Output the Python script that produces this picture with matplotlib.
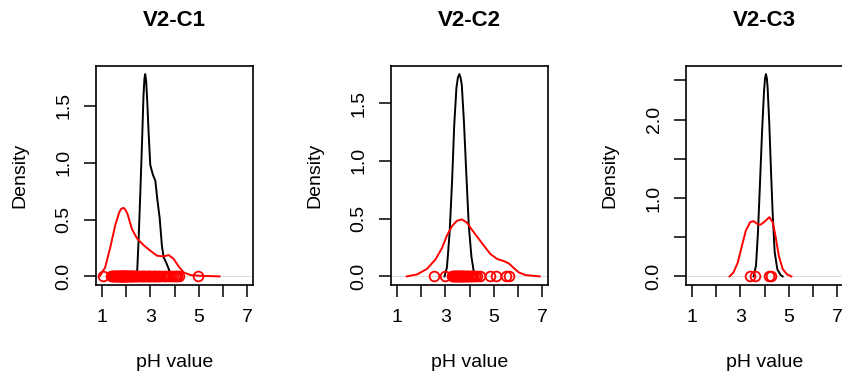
import matplotlib
matplotlib.use("Agg")
import matplotlib.pyplot as plt
import numpy as np

plt.rcParams["font.family"] = ["Liberation Sans", "DejaVu Sans"]

#%%data
titles = ["V2-C1", "V2-C2", "V2-C3"]

# black density curves
black_x1 = [2.45, 2.52, 2.59, 2.66, 2.72, 2.76, 2.79, 2.83, 2.88, 2.93, 3.00, 3.10, 3.21, 3.29, 3.39, 3.48, 3.55, 3.66, 3.79, 3.90]
black_y1 = [0.00, 0.33, 0.74, 1.18, 1.59, 1.74, 1.78, 1.72, 1.52, 1.27, 0.98, 0.90, 0.84, 0.68, 0.51, 0.27, 0.17, 0.12, 0.05, 0.00]
black_x2 = [2.97, 3.07, 3.18, 3.28, 3.37, 3.46, 3.52, 3.58, 3.63, 3.68, 3.77, 3.87, 3.97, 4.08, 4.17, 4.28]
black_y2 = [0.00, 0.08, 0.38, 0.82, 1.31, 1.63, 1.72, 1.75, 1.72, 1.66, 1.34, 0.88, 0.44, 0.17, 0.05, 0.00]
black_x3 = [3.55, 3.65, 3.73, 3.81, 3.90, 3.98, 4.02, 4.06, 4.10, 4.13, 4.20, 4.27, 4.34, 4.42, 4.53, 4.66, 4.75]
black_y3 = [0.00, 0.14, 0.56, 1.16, 1.85, 2.36, 2.52, 2.58, 2.52, 2.40, 1.93, 1.33, 0.78, 0.31, 0.09, 0.02, 0.00]

# red density curves
red_x1 = [0.93, 1.14, 1.35, 1.55, 1.72, 1.80, 1.90, 1.98, 2.06, 2.24, 2.45, 2.72, 3.00, 3.28, 3.55, 3.76, 3.97,
          4.17, 4.38, 4.66, 5.00, 5.41, 5.86]
red_y1 = [0.006, 0.08, 0.256, 0.447, 0.565, 0.595, 0.603, 0.585, 0.55, 0.418, 0.335, 0.276, 0.226, 0.182, 0.176,
          0.188, 0.153, 0.088, 0.035, 0.012, 0.006, 0.003, 0.0]
red_x2 = [1.41, 1.83, 2.24, 2.59, 2.86, 3.07, 3.28, 3.48, 3.69, 3.90, 4.10, 4.31, 4.59, 4.86, 5.14, 5.41, 5.62,
          5.83, 6.03, 6.31, 6.90]
red_y2 = [0.0, 0.017, 0.064, 0.145, 0.243, 0.354, 0.435, 0.481, 0.493, 0.464, 0.403, 0.345, 0.267, 0.194, 0.151,
          0.133, 0.113, 0.072, 0.035, 0.012, 0.0]
red_x3 = [2.56, 2.72, 2.90, 3.07, 3.23, 3.41, 3.55, 3.69, 3.83, 4.01, 4.20, 4.34, 4.45, 4.59, 4.75, 4.93, 5.11]
red_y3 = [0.0, 0.051, 0.18, 0.393, 0.585, 0.692, 0.705, 0.671, 0.658, 0.70, 0.756, 0.692, 0.521, 0.265, 0.094,
          0.026, 0.0]

# red observations drawn on the zero line
red_pts1 = [1.03, 1.39, 1.42, 1.45, 1.48, 1.5, 1.53, 1.55, 1.58, 1.6, 1.62, 1.65, 1.67, 1.7, 1.72, 1.74, 1.75,
            1.78, 1.8, 1.82, 1.83, 1.85, 1.86, 1.88, 1.9, 1.91, 1.93, 1.95, 1.96, 1.98, 2.0, 2.02, 2.05, 2.07,
            2.1, 2.12, 2.15, 2.18, 2.2, 2.23, 2.25, 2.28, 2.3, 2.34, 2.38, 2.4, 2.45, 2.5, 2.55, 2.6, 2.65, 2.7,
            2.75, 2.8, 2.85, 2.9, 2.95, 3.0, 3.05, 3.1, 3.15, 3.2, 3.25, 3.3, 3.38, 3.45, 3.55, 3.62, 3.7, 3.78,
            3.85, 3.92, 4.0, 4.05, 4.12, 4.2, 4.95]
red_pts2 = [2.55, 2.97, 3.28, 3.31, 3.35, 3.38, 3.42, 3.45, 3.48, 3.5, 3.53, 3.55, 3.58, 3.6, 3.62, 3.65, 3.68,
            3.7, 3.73, 3.75, 3.78, 3.8, 3.84, 3.88, 3.92, 3.95, 4.0, 4.05, 4.1, 4.15, 4.22, 4.3, 4.44, 4.83,
            5.08, 5.49, 5.63]
red_pts3 = [3.41, 3.6, 4.18, 4.26]

x_ticks = [1, 2, 3, 4, 5, 6, 7]
x_labels = ["1", "", "3", "", "5", "", "7"]
y_ticks = [[0.0, 0.5, 1.0, 1.5], [0.0, 0.5, 1.0, 1.5], [0.0, 0.5, 1.0, 1.5, 2.0, 2.5]]
y_labels = [["0.0", "0.5", "1.0", "1.5"], ["0.0", "0.5", "1.0", "1.5"], ["0.0", "", "1.0", "", "2.0", ""]]

panels = [
    (black_x1, black_y1, red_x1, red_y1, red_pts1),
    (black_x2, black_y2, red_x2, red_y2, red_pts2),
    (black_x3, black_y3, red_x3, red_y3, red_pts3),
]

#%%plot
W, H = 842, 371
fig = plt.figure(figsize=(W / 100, H / 100), dpi=100)
lefts = [96, 391, 686]
box_w, box_top, box_bot = 157, 66, 284.5

for i, (bx, by, rx, ry, pts) in enumerate(panels):
    ax = fig.add_axes([lefts[i] / W, 1 - box_bot / H, box_w / W, (box_bot - box_top) / H])
    ax.axhline(0, color="#d0d0d0", lw=0.5, zorder=1)
    ax.plot(bx, by, color="black", lw=1.4, zorder=3)
    ax.plot(rx, ry, color="red", lw=1.4, zorder=3)
    ax.plot(pts, np.zeros(len(pts)), "o", mfc="none", mec="red", ms=7, mew=1.3, zorder=4)

    ymax = max(max(by), max(ry))
    ax.set_xlim(0.76, 7.24)
    ax.set_ylim(-0.04 * ymax, 1.04 * ymax)
    ax.set_xticks(x_ticks)
    ax.set_xticklabels(x_labels)
    ax.set_yticks(y_ticks[i])
    ax.set_yticklabels(y_labels[i])
    ax.tick_params(axis="both", direction="out", length=8.4, width=1.1, labelsize=14, pad=9.5)
    ax.tick_params(axis="y", labelrotation=90, pad=8.5)
    for lab in ax.get_yticklabels():
        lab.set_verticalalignment("center")
    for sp in ax.spines.values():
        sp.set_linewidth(1.2)

    ax.text(0.5, 1.206, titles[i], transform=ax.transAxes, ha="center", va="center",
            fontsize=16, fontweight="bold")
    ax.text(-0.484, 0.5, "Density", transform=ax.transAxes, rotation=90, ha="center", va="center",
            fontsize=14)
    ax.text(0.5, -0.378, "pH value", transform=ax.transAxes, ha="center", va="baseline", fontsize=14)

fig.savefig("out.png", dpi=100)
